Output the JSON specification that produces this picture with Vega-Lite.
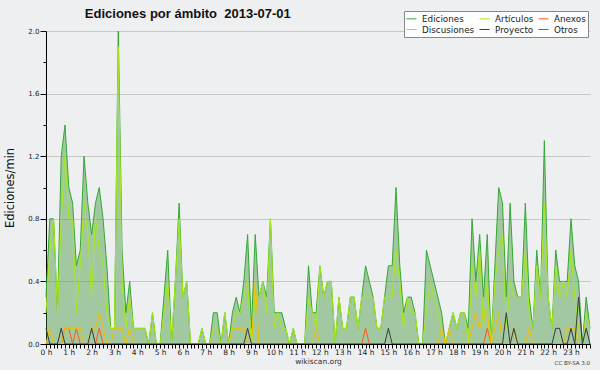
{
"$schema": "https://vega.github.io/schema/vega-lite/v6.json",
"width": 544, "height": 313,
"autosize": {"type": "none"},
"padding": {"left": 46, "top": 31, "right": 10, "bottom": 26},
"background": "#eeeff1",
"config": {"view": {"stroke": null}, "font": "DejaVu Sans"},
"title": {"text": "Ediciones por ámbito \u00a02013-07-01", "font": "Liberation Sans", "fontSize": 13, "fontWeight": "bold", "color": "#111", "anchor": "start", "dx": 80, "offset": -23, "baseline": "bottom"},
"data": {"values": [
{"m":0,"Ediciones":0.3,"Artículos":0.2,"Anexos":0,"Discusiones":0,"Proyecto":0.1},
{"m":10,"Ediciones":0.8,"Artículos":0.6,"Anexos":0,"Discusiones":0.1,"Proyecto":0},
{"m":20,"Ediciones":0.8,"Artículos":0.8,"Anexos":0,"Discusiones":0,"Proyecto":0},
{"m":30,"Ediciones":0.2,"Artículos":0.2,"Anexos":0,"Discusiones":0,"Proyecto":0},
{"m":40,"Ediciones":1.2,"Artículos":0.8,"Anexos":0,"Discusiones":0,"Proyecto":0.1},
{"m":50,"Ediciones":1.4,"Artículos":1.2,"Anexos":0.1,"Discusiones":0.1,"Proyecto":0},
{"m":60,"Ediciones":1.0,"Artículos":0.8,"Anexos":0.1,"Discusiones":0.1,"Proyecto":0},
{"m":70,"Ediciones":0.9,"Artículos":0.8,"Anexos":0,"Discusiones":0.1,"Proyecto":0},
{"m":80,"Ediciones":0.5,"Artículos":0.2,"Anexos":0.1,"Discusiones":0.1,"Proyecto":0},
{"m":90,"Ediciones":0.6,"Artículos":0.5,"Anexos":0,"Discusiones":0.1,"Proyecto":0},
{"m":100,"Ediciones":1.2,"Artículos":0.9,"Anexos":0,"Discusiones":0,"Proyecto":0},
{"m":110,"Ediciones":0.9,"Artículos":0.7,"Anexos":0,"Discusiones":0,"Proyecto":0},
{"m":120,"Ediciones":0.7,"Artículos":0.3,"Anexos":0,"Discusiones":0.1,"Proyecto":0.1},
{"m":130,"Ediciones":0.9,"Artículos":0.8,"Anexos":0,"Discusiones":0.1,"Proyecto":0},
{"m":140,"Ediciones":1.0,"Artículos":0.6,"Anexos":0.1,"Discusiones":0.2,"Proyecto":0},
{"m":150,"Ediciones":0.8,"Artículos":0.5,"Anexos":0,"Discusiones":0.1,"Proyecto":0},
{"m":160,"Ediciones":0.5,"Artículos":0.2,"Anexos":0,"Discusiones":0,"Proyecto":0},
{"m":170,"Ediciones":0.1,"Artículos":0.1,"Anexos":0,"Discusiones":0,"Proyecto":0},
{"m":180,"Ediciones":0.1,"Artículos":0.1,"Anexos":0,"Discusiones":0.1,"Proyecto":0},
{"m":190,"Ediciones":2.0,"Artículos":1.9,"Anexos":0,"Discusiones":0.1,"Proyecto":0},
{"m":200,"Ediciones":0.6,"Artículos":0.4,"Anexos":0,"Discusiones":0.1,"Proyecto":0},
{"m":210,"Ediciones":0.2,"Artículos":0.1,"Anexos":0,"Discusiones":0,"Proyecto":0},
{"m":220,"Ediciones":0.4,"Artículos":0.3,"Anexos":0,"Discusiones":0.1,"Proyecto":0},
{"m":230,"Ediciones":0.1,"Artículos":0.1,"Anexos":0,"Discusiones":0,"Proyecto":0},
{"m":240,"Ediciones":0.1,"Artículos":0.1,"Anexos":0,"Discusiones":0,"Proyecto":0},
{"m":250,"Ediciones":0.1,"Artículos":0.1,"Anexos":0,"Discusiones":0,"Proyecto":0},
{"m":260,"Ediciones":0.1,"Artículos":0.1,"Anexos":0,"Discusiones":0,"Proyecto":0},
{"m":270,"Ediciones":0,"Artículos":0,"Anexos":0,"Discusiones":0,"Proyecto":0},
{"m":280,"Ediciones":0.2,"Artículos":0.2,"Anexos":0,"Discusiones":0,"Proyecto":0},
{"m":290,"Ediciones":0,"Artículos":0,"Anexos":0,"Discusiones":0,"Proyecto":0},
{"m":300,"Ediciones":0,"Artículos":0,"Anexos":0,"Discusiones":0,"Proyecto":0},
{"m":310,"Ediciones":0.3,"Artículos":0.2,"Anexos":0,"Discusiones":0,"Proyecto":0},
{"m":320,"Ediciones":0.6,"Artículos":0.4,"Anexos":0,"Discusiones":0,"Proyecto":0},
{"m":330,"Ediciones":0,"Artículos":0,"Anexos":0,"Discusiones":0,"Proyecto":0},
{"m":340,"Ediciones":0.4,"Artículos":0.4,"Anexos":0,"Discusiones":0,"Proyecto":0},
{"m":350,"Ediciones":0.9,"Artículos":0.8,"Anexos":0,"Discusiones":0,"Proyecto":0},
{"m":360,"Ediciones":0.3,"Artículos":0.3,"Anexos":0,"Discusiones":0,"Proyecto":0},
{"m":370,"Ediciones":0.4,"Artículos":0.4,"Anexos":0,"Discusiones":0,"Proyecto":0},
{"m":380,"Ediciones":0,"Artículos":0,"Anexos":0,"Discusiones":0,"Proyecto":0},
{"m":390,"Ediciones":0,"Artículos":0,"Anexos":0,"Discusiones":0,"Proyecto":0},
{"m":400,"Ediciones":0,"Artículos":0,"Anexos":0,"Discusiones":0,"Proyecto":0},
{"m":410,"Ediciones":0.1,"Artículos":0.1,"Anexos":0,"Discusiones":0,"Proyecto":0},
{"m":420,"Ediciones":0,"Artículos":0,"Anexos":0,"Discusiones":0,"Proyecto":0},
{"m":430,"Ediciones":0,"Artículos":0,"Anexos":0,"Discusiones":0,"Proyecto":0},
{"m":440,"Ediciones":0.2,"Artículos":0.1,"Anexos":0,"Discusiones":0,"Proyecto":0},
{"m":450,"Ediciones":0.2,"Artículos":0.1,"Anexos":0,"Discusiones":0,"Proyecto":0},
{"m":460,"Ediciones":0,"Artículos":0,"Anexos":0,"Discusiones":0,"Proyecto":0},
{"m":470,"Ediciones":0.2,"Artículos":0.2,"Anexos":0,"Discusiones":0,"Proyecto":0},
{"m":480,"Ediciones":0,"Artículos":0,"Anexos":0,"Discusiones":0,"Proyecto":0},
{"m":490,"Ediciones":0.2,"Artículos":0.1,"Anexos":0,"Discusiones":0.1,"Proyecto":0},
{"m":500,"Ediciones":0.3,"Artículos":0.2,"Anexos":0,"Discusiones":0.1,"Proyecto":0},
{"m":510,"Ediciones":0.2,"Artículos":0.2,"Anexos":0,"Discusiones":0.1,"Proyecto":0},
{"m":520,"Ediciones":0.4,"Artículos":0.3,"Anexos":0,"Discusiones":0.1,"Proyecto":0},
{"m":530,"Ediciones":0.7,"Artículos":0.4,"Anexos":0,"Discusiones":0,"Proyecto":0.1},
{"m":540,"Ediciones":0.1,"Artículos":0,"Anexos":0,"Discusiones":0,"Proyecto":0},
{"m":550,"Ediciones":0.7,"Artículos":0.3,"Anexos":0,"Discusiones":0.4,"Proyecto":0},
{"m":560,"Ediciones":0.3,"Artículos":0.3,"Anexos":0,"Discusiones":0,"Proyecto":0},
{"m":570,"Ediciones":0.4,"Artículos":0.4,"Anexos":0,"Discusiones":0,"Proyecto":0},
{"m":580,"Ediciones":0.3,"Artículos":0.2,"Anexos":0,"Discusiones":0,"Proyecto":0},
{"m":590,"Ediciones":0.8,"Artículos":0.8,"Anexos":0,"Discusiones":0,"Proyecto":0},
{"m":600,"Ediciones":0.2,"Artículos":0.1,"Anexos":0,"Discusiones":0,"Proyecto":0},
{"m":610,"Ediciones":0.2,"Artículos":0.2,"Anexos":0,"Discusiones":0,"Proyecto":0},
{"m":620,"Ediciones":0.2,"Artículos":0.1,"Anexos":0,"Discusiones":0,"Proyecto":0},
{"m":630,"Ediciones":0.1,"Artículos":0.1,"Anexos":0,"Discusiones":0,"Proyecto":0},
{"m":640,"Ediciones":0,"Artículos":0,"Anexos":0,"Discusiones":0,"Proyecto":0},
{"m":650,"Ediciones":0.1,"Artículos":0.1,"Anexos":0,"Discusiones":0,"Proyecto":0},
{"m":660,"Ediciones":0,"Artículos":0,"Anexos":0,"Discusiones":0,"Proyecto":0},
{"m":670,"Ediciones":0,"Artículos":0,"Anexos":0,"Discusiones":0,"Proyecto":0},
{"m":680,"Ediciones":0,"Artículos":0,"Anexos":0,"Discusiones":0,"Proyecto":0},
{"m":690,"Ediciones":0.5,"Artículos":0.3,"Anexos":0,"Discusiones":0,"Proyecto":0},
{"m":700,"Ediciones":0.2,"Artículos":0.2,"Anexos":0,"Discusiones":0,"Proyecto":0},
{"m":710,"Ediciones":0.2,"Artículos":0.1,"Anexos":0,"Discusiones":0.1,"Proyecto":0},
{"m":720,"Ediciones":0.5,"Artículos":0.5,"Anexos":0,"Discusiones":0,"Proyecto":0},
{"m":730,"Ediciones":0.3,"Artículos":0.3,"Anexos":0,"Discusiones":0,"Proyecto":0},
{"m":740,"Ediciones":0.4,"Artículos":0.4,"Anexos":0,"Discusiones":0,"Proyecto":0},
{"m":750,"Ediciones":0.4,"Artículos":0.4,"Anexos":0,"Discusiones":0,"Proyecto":0},
{"m":760,"Ediciones":0,"Artículos":0,"Anexos":0,"Discusiones":0,"Proyecto":0},
{"m":770,"Ediciones":0.3,"Artículos":0.3,"Anexos":0,"Discusiones":0,"Proyecto":0},
{"m":780,"Ediciones":0.1,"Artículos":0.1,"Anexos":0,"Discusiones":0,"Proyecto":0},
{"m":790,"Ediciones":0.1,"Artículos":0.1,"Anexos":0,"Discusiones":0,"Proyecto":0},
{"m":800,"Ediciones":0.3,"Artículos":0.3,"Anexos":0,"Discusiones":0,"Proyecto":0},
{"m":810,"Ediciones":0.3,"Artículos":0.3,"Anexos":0,"Discusiones":0,"Proyecto":0},
{"m":820,"Ediciones":0.1,"Artículos":0.1,"Anexos":0,"Discusiones":0,"Proyecto":0},
{"m":830,"Ediciones":0.3,"Artículos":0.3,"Anexos":0,"Discusiones":0,"Proyecto":0},
{"m":840,"Ediciones":0.5,"Artículos":0.3,"Anexos":0.1,"Discusiones":0,"Proyecto":0},
{"m":850,"Ediciones":0.4,"Artículos":0.3,"Anexos":0,"Discusiones":0,"Proyecto":0},
{"m":860,"Ediciones":0.3,"Artículos":0.3,"Anexos":0,"Discusiones":0,"Proyecto":0},
{"m":870,"Ediciones":0.1,"Artículos":0.1,"Anexos":0,"Discusiones":0,"Proyecto":0},
{"m":880,"Ediciones":0.1,"Artículos":0.1,"Anexos":0,"Discusiones":0,"Proyecto":0},
{"m":890,"Ediciones":0.3,"Artículos":0.3,"Anexos":0,"Discusiones":0,"Proyecto":0},
{"m":900,"Ediciones":0.5,"Artículos":0.3,"Anexos":0,"Discusiones":0,"Proyecto":0.1},
{"m":910,"Ediciones":0.5,"Artículos":0.3,"Anexos":0,"Discusiones":0,"Proyecto":0},
{"m":920,"Ediciones":1.0,"Artículos":0.6,"Anexos":0,"Discusiones":0,"Proyecto":0},
{"m":930,"Ediciones":0.5,"Artículos":0.4,"Anexos":0,"Discusiones":0,"Proyecto":0},
{"m":940,"Ediciones":0.2,"Artículos":0.1,"Anexos":0,"Discusiones":0,"Proyecto":0},
{"m":950,"Ediciones":0.3,"Artículos":0.3,"Anexos":0,"Discusiones":0,"Proyecto":0},
{"m":960,"Ediciones":0.3,"Artículos":0.2,"Anexos":0,"Discusiones":0,"Proyecto":0},
{"m":970,"Ediciones":0.2,"Artículos":0.2,"Anexos":0,"Discusiones":0,"Proyecto":0},
{"m":980,"Ediciones":0,"Artículos":0,"Anexos":0,"Discusiones":0,"Proyecto":0},
{"m":990,"Ediciones":0,"Artículos":0,"Anexos":0,"Discusiones":0,"Proyecto":0},
{"m":1000,"Ediciones":0.6,"Artículos":0.2,"Anexos":0,"Discusiones":0,"Proyecto":0},
{"m":1010,"Ediciones":0.5,"Artículos":0.4,"Anexos":0,"Discusiones":0,"Proyecto":0},
{"m":1020,"Ediciones":0.4,"Artículos":0.3,"Anexos":0,"Discusiones":0,"Proyecto":0},
{"m":1030,"Ediciones":0.3,"Artículos":0.2,"Anexos":0,"Discusiones":0,"Proyecto":0},
{"m":1040,"Ediciones":0.2,"Artículos":0.1,"Anexos":0,"Discusiones":0.1,"Proyecto":0},
{"m":1050,"Ediciones":0,"Artículos":0,"Anexos":0,"Discusiones":0,"Proyecto":0},
{"m":1060,"Ediciones":0.1,"Artículos":0.1,"Anexos":0,"Discusiones":0.1,"Proyecto":0},
{"m":1070,"Ediciones":0.2,"Artículos":0.2,"Anexos":0,"Discusiones":0,"Proyecto":0},
{"m":1080,"Ediciones":0.1,"Artículos":0.1,"Anexos":0,"Discusiones":0,"Proyecto":0},
{"m":1090,"Ediciones":0.2,"Artículos":0.2,"Anexos":0,"Discusiones":0,"Proyecto":0},
{"m":1100,"Ediciones":0.2,"Artículos":0.2,"Anexos":0,"Discusiones":0,"Proyecto":0},
{"m":1110,"Ediciones":0.1,"Artículos":0,"Anexos":0,"Discusiones":0,"Proyecto":0},
{"m":1120,"Ediciones":0.8,"Artículos":0.5,"Anexos":0,"Discusiones":0.1,"Proyecto":0},
{"m":1130,"Ediciones":0.4,"Artículos":0.3,"Anexos":0,"Discusiones":0.2,"Proyecto":0},
{"m":1140,"Ediciones":0.7,"Artículos":0.6,"Anexos":0,"Discusiones":0.1,"Proyecto":0},
{"m":1150,"Ediciones":0.3,"Artículos":0.1,"Anexos":0,"Discusiones":0.2,"Proyecto":0},
{"m":1160,"Ediciones":0.7,"Artículos":0.4,"Anexos":0.1,"Discusiones":0.2,"Proyecto":0},
{"m":1170,"Ediciones":0,"Artículos":0,"Anexos":0,"Discusiones":0,"Proyecto":0},
{"m":1180,"Ediciones":0.5,"Artículos":0.4,"Anexos":0,"Discusiones":0.1,"Proyecto":0},
{"m":1190,"Ediciones":1.0,"Artículos":0.6,"Anexos":0,"Discusiones":0.2,"Proyecto":0},
{"m":1200,"Ediciones":0.9,"Artículos":0.7,"Anexos":0,"Discusiones":0,"Proyecto":0},
{"m":1210,"Ediciones":0.3,"Artículos":0.1,"Anexos":0,"Discusiones":0,"Proyecto":0.2},
{"m":1220,"Ediciones":0.9,"Artículos":0.4,"Anexos":0,"Discusiones":0,"Proyecto":0},
{"m":1230,"Ediciones":0.4,"Artículos":0.3,"Anexos":0,"Discusiones":0.1,"Proyecto":0.1},
{"m":1240,"Ediciones":0.3,"Artículos":0.3,"Anexos":0,"Discusiones":0,"Proyecto":0},
{"m":1250,"Ediciones":0.3,"Artículos":0.3,"Anexos":0,"Discusiones":0,"Proyecto":0},
{"m":1260,"Ediciones":0.9,"Artículos":0.6,"Anexos":0,"Discusiones":0,"Proyecto":0},
{"m":1270,"Ediciones":0.3,"Artículos":0.2,"Anexos":0,"Discusiones":0.1,"Proyecto":0},
{"m":1280,"Ediciones":0.1,"Artículos":0.1,"Anexos":0,"Discusiones":0,"Proyecto":0},
{"m":1290,"Ediciones":0.6,"Artículos":0.5,"Anexos":0,"Discusiones":0,"Proyecto":0},
{"m":1300,"Ediciones":0.3,"Artículos":0.3,"Anexos":0,"Discusiones":0,"Proyecto":0},
{"m":1310,"Ediciones":1.3,"Artículos":0.9,"Anexos":0,"Discusiones":0,"Proyecto":0},
{"m":1320,"Ediciones":0.3,"Artículos":0.3,"Anexos":0,"Discusiones":0,"Proyecto":0},
{"m":1330,"Ediciones":0.1,"Artículos":0.1,"Anexos":0,"Discusiones":0,"Proyecto":0},
{"m":1340,"Ediciones":0.6,"Artículos":0.5,"Anexos":0,"Discusiones":0,"Proyecto":0.1},
{"m":1350,"Ediciones":0.4,"Artículos":0.3,"Anexos":0,"Discusiones":0,"Proyecto":0.1},
{"m":1360,"Ediciones":0.4,"Artículos":0.4,"Anexos":0,"Discusiones":0,"Proyecto":0},
{"m":1370,"Ediciones":0.4,"Artículos":0.3,"Anexos":0,"Discusiones":0.1,"Proyecto":0},
{"m":1380,"Ediciones":0.8,"Artículos":0.6,"Anexos":0,"Discusiones":0.1,"Proyecto":0.1},
{"m":1390,"Ediciones":0.5,"Artículos":0.3,"Anexos":0,"Discusiones":0.1,"Proyecto":0},
{"m":1400,"Ediciones":0.4,"Artículos":0.1,"Anexos":0,"Discusiones":0,"Proyecto":0.3},
{"m":1410,"Ediciones":0,"Artículos":0,"Anexos":0,"Discusiones":0,"Proyecto":0},
{"m":1420,"Ediciones":0.3,"Artículos":0.2,"Anexos":0,"Discusiones":0,"Proyecto":0.1},
{"m":1430,"Ediciones":0.1,"Artículos":0.1,"Anexos":0,"Discusiones":0,"Proyecto":0}
]},
"layer": [
{"mark": {"type": "area", "color": "#2e8f2a", "opacity": 0.4},
 "encoding": {
  "x": {"field": "m", "type": "quantitative", "title": "wikiscan.org",
   "scale": {"domain": [0, 1430], "nice": false, "zero": false},
   "axis": {"values": [0,10,20,30,40,50,60,70,80,90,100,110,120,130,140,150,160,170,180,190,200,210,220,230,240,250,260,270,280,290,300,310,320,330,340,350,360,370,380,390,400,410,420,430,440,450,460,470,480,490,500,510,520,530,540,550,560,570,580,590,600,610,620,630,640,650,660,670,680,690,700,710,720,730,740,750,760,770,780,790,800,810,820,830,840,850,860,870,880,890,900,910,920,930,940,950,960,970,980,990,1000,1010,1020,1030,1040,1050,1060,1070,1080,1090,1100,1110,1120,1130,1140,1150,1160,1170,1180,1190,1200,1210,1220,1230,1240,1250,1260,1270,1280,1290,1300,1310,1320,1330,1340,1350,1360,1370,1380,1390,1400,1410,1420,1430],
    "tickCount": 500,
    "labelExpr": "datum.value % 60 === 0 ? (datum.value / 60) + ' h' : ''",
    "labelOverlap": false, "labelFlush": false, "labelBound": false,
    "labelFont": "DejaVu Sans", "labelFontSize": 7.5, "labelColor": "#222", "labelPadding": 0,
    "tickSize": 4, "tickColor": "#000", "domainColor": "#000", "grid": false, "zindex": 1,
    "titleFont": "DejaVu Sans", "titleFontSize": 7.5, "titleFontWeight": "normal", "titleColor": "#333", "titlePadding": 2}},
  "y": {"field": "Ediciones", "type": "quantitative", "title": "Ediciones/min",
   "scale": {"domain": [0, 2], "nice": false},
   "axis": {"values": [0,0.2,0.4,0.6,0.8,1,1.2,1.4,1.6,1.8,2],
    "tickCount": 50,
    "labelExpr": "round(datum.value*10) % 4 === 0 ? format(datum.value, '.1f') : ''",
    "labelOverlap": false,
    "labelFont": "DejaVu Sans", "labelFontSize": 7, "labelColor": "#222", "labelPadding": 1,
    "tickSize": {"condition": {"test": "round(datum.value*10) % 4 === 0", "value": 6}, "value": 3},
    "tickColor": "#000", "domainColor": "#000",
    "grid": true, "gridColor": "#c8c8c8",
    "gridOpacity": {"condition": {"test": "round(datum.value*10) % 4 === 0", "value": 1}, "value": 0},
    "titleFont": "DejaVu Sans", "titleFontSize": 11.5, "titleFontWeight": "normal", "titleColor": "#111", "titlePadding": 12}}
 }},
{"transform": [{"fold": ["Ediciones", "Artículos", "Anexos", "Discusiones", "Proyecto"], "as": ["serie", "v"]}],
 "mark": {"type": "line", "strokeWidth": 1},
 "encoding": {
  "x": {"field": "m", "type": "quantitative", "title": "wikiscan.org"},
  "y": {"field": "v", "type": "quantitative", "title": "Ediciones/min"},
  "color": {"field": "serie", "type": "nominal",
   "scale": {"domain": ["Ediciones", "Artículos", "Anexos", "Discusiones", "Proyecto", "Otros"],
             "range": ["#34a834", "#a8e81a", "#ff5a14", "#f5c000", "#3a3a3a", "#9933ee"]},
   "legend": {"orient": "none", "legendX": 358, "legendY": -20, "columns": 3, "direction": "horizontal", "title": null,
    "symbolType": "stroke", "symbolSize": 100, "symbolStrokeWidth": 1,
    "labelFont": "DejaVu Sans", "labelFontSize": 8.8, "labelColor": "#222",
    "fillColor": "#fdfdfd", "strokeColor": "#888", "padding": 2, "rowPadding": 0, "columnPadding": 2,
    "labelOffset": 5, "symbolOffset": 0}}
 }},
{"data": {"values": [{"t": "CC BY-SA 3.0"}]},
 "mark": {"type": "text", "align": "right", "baseline": "alphabetic", "dy": 21, "fontSize": 5.5, "font": "DejaVu Sans", "color": "#333"},
 "encoding": {"x": {"datum": 1430, "type": "quantitative"}, "y": {"datum": 0, "type": "quantitative"}, "text": {"field": "t"}}}
]
}
